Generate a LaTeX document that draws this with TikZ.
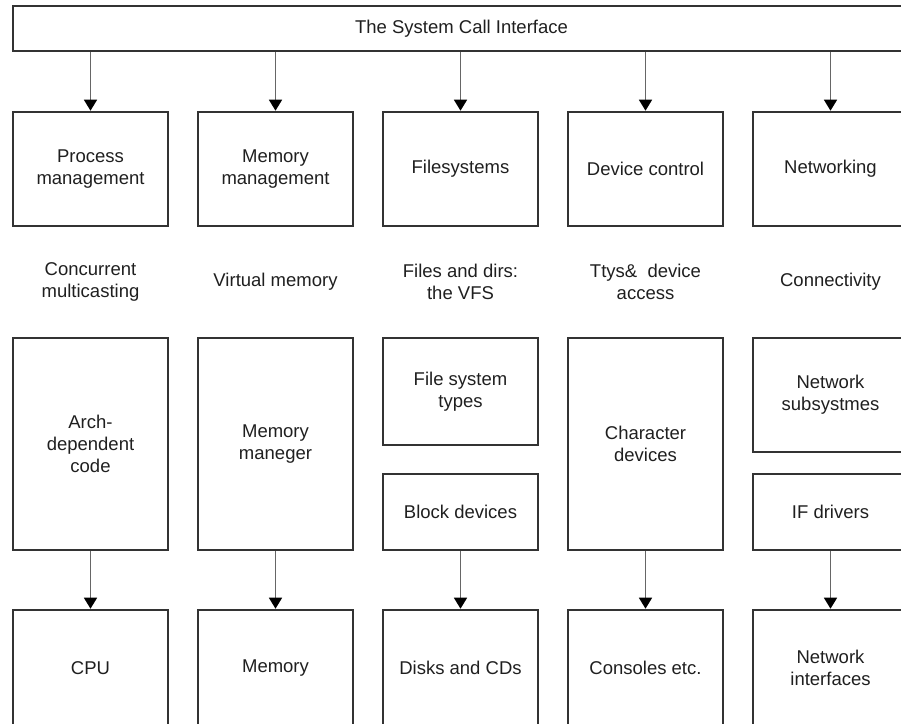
\documentclass[tikz,border=0pt]{standalone}
\usepackage{fontspec}
\setmainfont{Liberation Sans}
\usetikzlibrary{arrows.meta}
\definecolor{boxline}{rgb}{0.2,0.2,0.2}
\definecolor{arrowline}{rgb}{0.4,0.4,0.4}
\definecolor{txt}{rgb}{0.12,0.12,0.12}

\begin{document}
\begin{tikzpicture}[x=1pt,y=-1pt,
    box/.style={draw=boxline,line width=2.6pt,minimum width=155pt,inner sep=0pt,align=center,text=txt,font=\fontsize{18.5}{22}\selectfont},
    caption/.style={align=center,text=txt,font=\fontsize{18.5}{22}\selectfont},
    arr/.style={draw=arrowline,line width=1.6pt,-{Triangle[width=13pt,length=11pt,color=black]}}]
    \useasboundingbox (0,0) rectangle (901,723);

    % draw system call interface
    \node[box,minimum width=897pt,minimum height=45pt] (sci) at (461.5,28.5) {The System Call Interface};

    % draw top row
    \node[box,minimum height=114pt] (proc) at (90.5,169) {Process\\management};
    \node[box,minimum height=114pt] (mem) at (275.5,169) {Memory\\management};
    \node[box,minimum height=114pt] (fs) at (460.5,169) {Filesystems};
    \node[box,minimum height=114pt] (dev) at (645.5,169) {Device control};
    \node[box,minimum height=114pt] (net) at (830.5,169) {Networking};

    % draw captions
    \node[caption] (concur) at (90.5,282) {Concurrent\\multicasting};
    \node[caption] (virt) at (275.5,282) {Virtual memory};
    \node[caption] (vfs) at (460.5,282) {Files and dirs:\\the VFS};
    \node[caption] (ttys) at (645.5,282) {Ttys\&\ \ device\\access};
    \node[caption] (conn) at (830.5,282) {Connectivity};

    % draw middle row
    \node[box,minimum height=212pt] (arch) at (90.5,444) {Arch-\\dependent\\code};
    \node[box,minimum height=212pt] (memman) at (275.5,444) {Memory\\maneger};
    \node[box,minimum height=107pt] (fstypes) at (460.5,391.5) {File system\\types};
    \node[box,minimum height=76pt] (block) at (460.5,512) {Block devices};
    \node[box,minimum height=212pt] (chardev) at (645.5,444) {Character\\devices};
    \node[box,minimum height=114pt] (netsub) at (830.5,395) {Network\\subsystmes};
    \node[box,minimum height=76pt] (ifdrv) at (830.5,512) {IF drivers};

    % draw bottom row
    \node[box,minimum height=116pt] (cpu) at (90.5,668) {CPU};
    \node[box,minimum height=116pt] (memory) at (275.5,668) {Memory};
    \node[box,minimum height=116pt] (disks) at (460.5,668) {Disks and CDs};
    \node[box,minimum height=116pt] (consoles) at (645.5,668) {Consoles etc.};
    \node[box,minimum height=116pt] (netif) at (830.5,668) {Network\\interfaces};

    % draw arrows
    \foreach \n in {proc,mem,fs,dev,net}
        \draw[arr] (sci.south -| \n.north) -- (\n.north);
    \draw[arr] (arch) -- (cpu);
    \draw[arr] (memman) -- (memory);
    \draw[arr] (block) -- (disks);
    \draw[arr] (chardev) -- (consoles);
    \draw[arr] (ifdrv) -- (netif);
\end{tikzpicture}
\end{document}
